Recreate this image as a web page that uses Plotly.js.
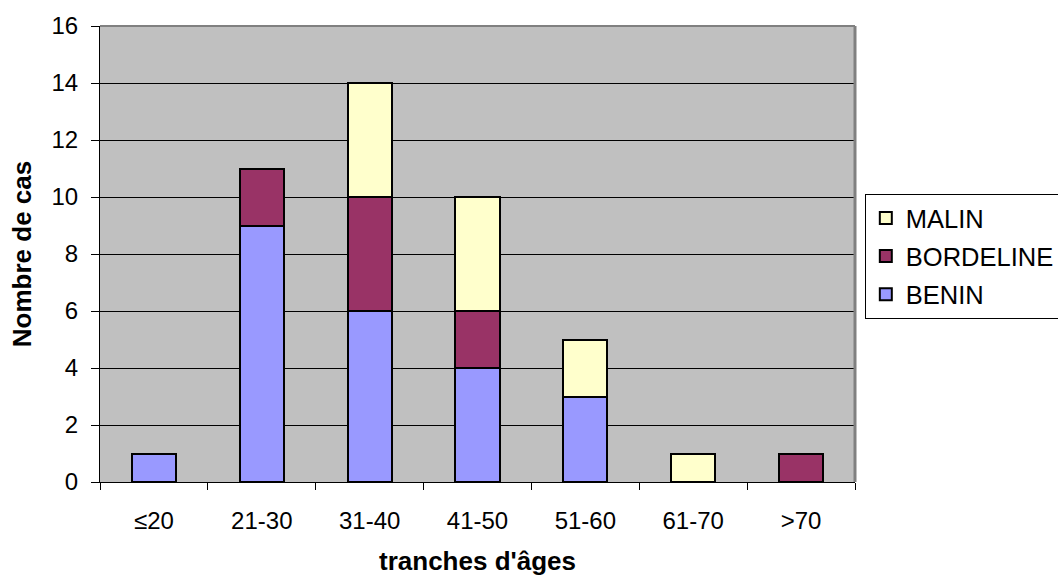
<!DOCTYPE html>
<html>
<head>
<meta charset="utf-8">
<script src="https://cdn.plot.ly/plotly-3.0.1.min.js"></script>
<style>html,body{margin:0;padding:0;background:#fff;}#chart{width:1058px;height:576px;}</style>
</head>
<body>
<div id="chart"></div>
<script>
const categories = ["≤20", "21-30", "31-40", "41-50", "51-60", "61-70", ">70"];
const benin = [1, 9, 6, 4, 3, 0, 0];
const bordeline = [0, 2, 4, 2, 0, 0, 1];
const malin = [0, 0, 4, 4, 2, 1, 0];
const yTicks = [0, 2, 4, 6, 8, 10, 12, 14, 16];

const line = {color: "#000", width: 2};
const traces = [
  {type: "bar", name: "BENIN", legendgroup: "a", legendrank: 3, x: categories, y: benin, marker: {color: "#9999FF", line: line}},
  {type: "bar", name: "BORDELINE", legendgroup: "b", legendrank: 2, x: categories, y: bordeline, marker: {color: "#993366", line: line}},
  {type: "bar", name: "MALIN", legendgroup: "c", legendrank: 1, x: categories, y: malin, marker: {color: "#FFFFCC", line: line}}
];
const tickFont = {family: "Liberation Sans", size: 24, color: "#000"};
const titleFont = {family: "Liberation Sans", size: 26, color: "#000"};
const legendFont = {family: "Liberation Sans", size: 25.5, color: "#000"};
const layout = {
  width: 1058, height: 576,
  margin: {l: 100, r: 203, t: 26, b: 94, autoexpand: false},
  paper_bgcolor: "#fff",
  plot_bgcolor: "#C0C0C0",
  barmode: "stack",
  bargap: 0.59,
  font: tickFont,
  showlegend: true,
  legend: {x: 1.013, y: 0.632, xanchor: "left", yanchor: "top", traceorder: "grouped",
    tracegroupgap: 2, bordercolor: "#000", borderwidth: 1, bgcolor: "#fff", font: legendFont},
  xaxis: {
    type: "category", automargin: false,
    title: {text: "<b>tranches d'âges</b>", font: titleFont, standoff: 23},
    showline: true, linecolor: "#000", linewidth: 1,
    ticks: "outside", ticklen: 7, tickcolor: "#000", tickson: "boundaries",
    ticklabelstandoff: 17,
    showgrid: false, mirror: false, tickfont: tickFont
  },
  yaxis: {
    range: [0, 16], tickvals: yTicks, ticktext: yTicks.map(String), automargin: false,
    title: {text: "<b>Nombre de cas</b>", font: titleFont, standoff: 12},
    showline: true, linecolor: "#000", linewidth: 1,
    ticks: "outside", ticklen: 8, tickcolor: "#000",
    ticklabelstandoff: 8,
    showgrid: true, gridcolor: "#000", gridwidth: 1, zeroline: false, tickfont: tickFont
  },
  shapes: [
    {type: "line", xref: "paper", yref: "paper", x0: 0, x1: 1, y0: 1, y1: 1,
     line: {color: "#808080", width: 2}},
    {type: "line", xref: "paper", yref: "paper", x0: 1, x1: 1, y0: 0, y1: 1,
     line: {color: "#808080", width: 3}}
  ]
};
Plotly.newPlot("chart", traces, layout, {displayModeBar: false});
</script>
</body>
</html>
